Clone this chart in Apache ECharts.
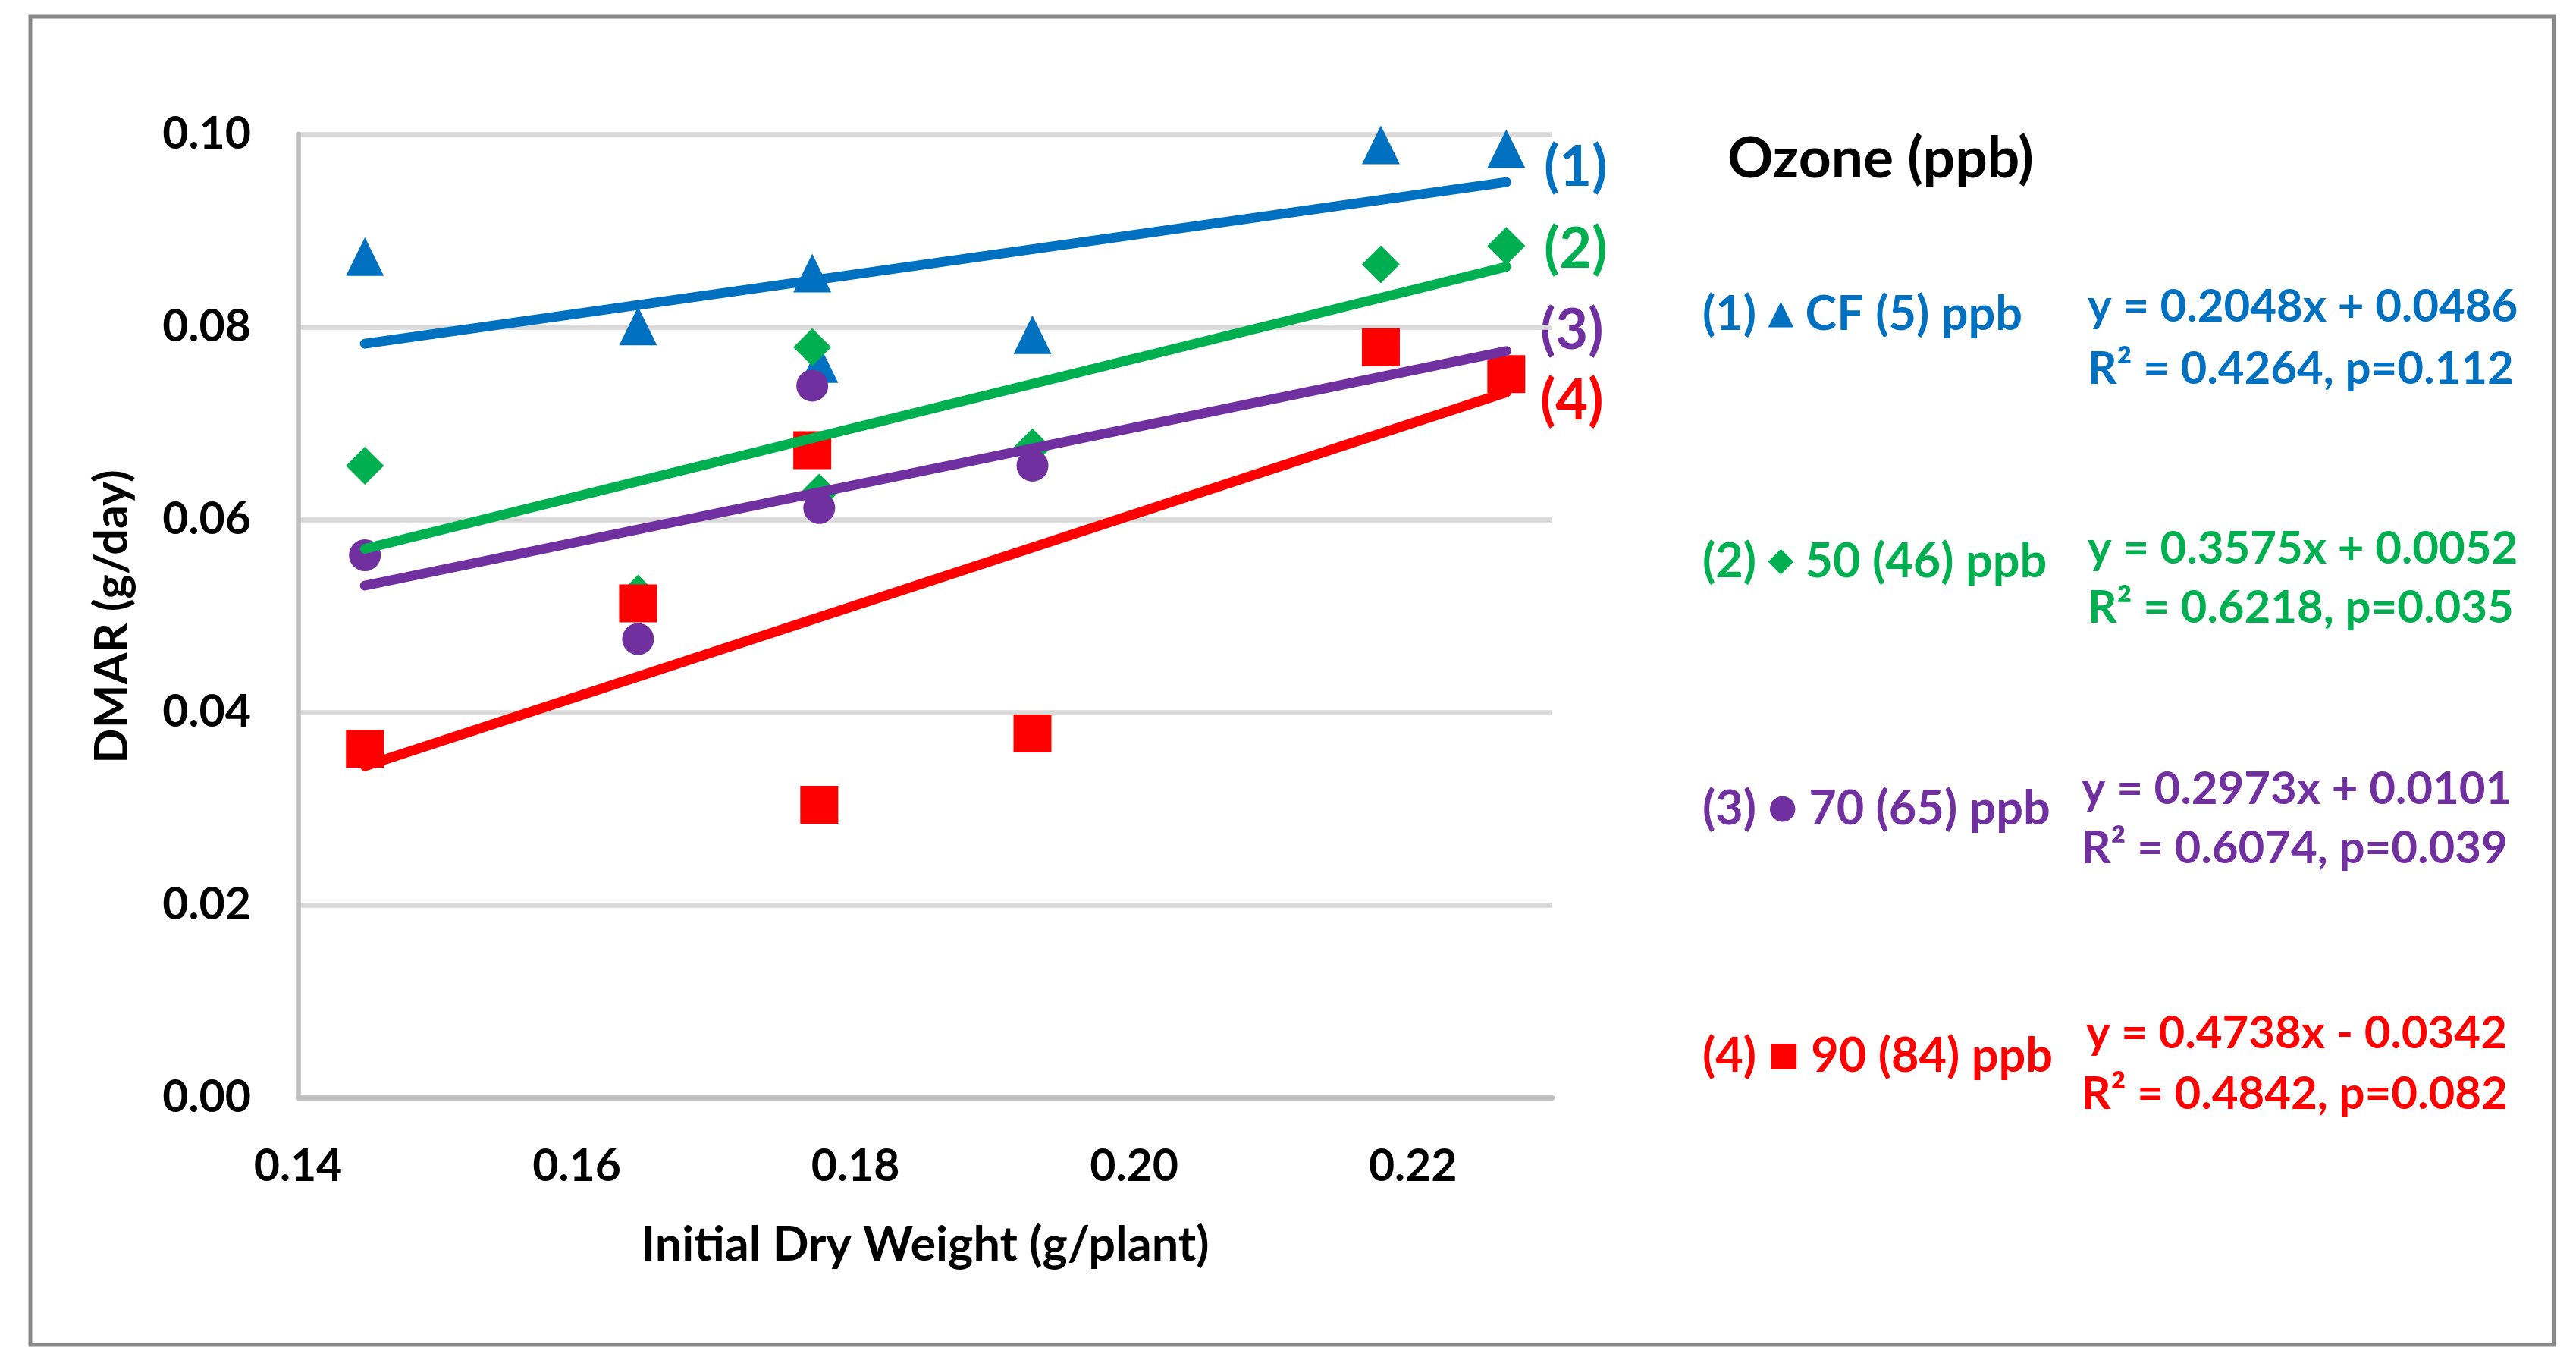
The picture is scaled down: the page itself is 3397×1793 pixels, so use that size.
<!DOCTYPE html>
<html>
<head>
<meta charset="utf-8">
<script src="https://cdn.jsdelivr.net/npm/echarts@6/dist/echarts.min.js"></script>
<style>
html,body{margin:0;padding:0;background:#fff;}
#chart{width:3397px;height:1793px;}
</style>
</head>
<body>
<div id="chart"></div>
<script>
// ---- data ----
const xValues = [0.1448, 0.1644, 0.1769, 0.1774, 0.1927, 0.2177, 0.2267];
const cfY     = [0.0873, 0.0801, 0.0856, 0.0762, 0.0792, 0.0989, 0.0985];
const o50Y    = [0.0656, 0.0523, 0.0779, 0.0628, 0.0675, 0.0865, 0.0884];
const o70Y    = [0.0563, 0.0476, 0.0739, 0.0612, 0.0656, 0.0780, 0.0750];
const o90Y    = [0.0362, 0.0513, 0.0672, 0.0304, 0.0378, 0.0779, 0.0751];
const slopes     = [0.2048, 0.3575, 0.2973, 0.4738];
const intercepts = [0.0486, 0.0052, 0.0101, -0.0342];
const seriesNames = ['CF (5) ppb', '50 (46) ppb', '70 (65) ppb', '90 (84) ppb'];
const seriesTags  = ['(1)', '(2)', '(3)', '(4)'];
const markerGlyphs = ['▲', '◆', '●', '■'];
const eqLine1 = ['y = 0.2048x + 0.0486', 'y = 0.3575x + 0.0052', 'y = 0.2973x + 0.0101', 'y = 0.4738x - 0.0342'];
const eqLine2 = ['R² = 0.4264, p=0.112', 'R² = 0.6218, p=0.035', 'R² = 0.6074, p=0.039', 'R² = 0.4842, p=0.082'];
const xTicks = [0.14, 0.16, 0.18, 0.20, 0.22];
const yTicks = [0.00, 0.02, 0.04, 0.06, 0.08, 0.10];

const colors  = ['#0070C0', '#00B050', '#7030A0', '#FF0000'];
const symbols = ['triangle', 'diamond', 'circle', 'rect'];
const symSizes = [[50, 51], [50, 50], [42, 42], [50, 50]];
const allY = [cfY, o50Y, o70Y, o90Y];
const FONT = 'Lato, "Open Sans", sans-serif';

const chart = echarts.init(document.getElementById('chart'), null, {renderer: 'canvas'});

const series = [];
allY.forEach((ys, k) => {
  series.push({
    type: 'scatter', name: seriesNames[k], z: 2,
    symbol: symbols[k], symbolSize: symSizes[k],
    itemStyle: {color: colors[k], opacity: 1},
    data: xValues.map((x, i) => [x, ys[i]])
  });
});
allY.forEach((ys, k) => {
  const x0 = Math.min(...xValues), x1 = Math.max(...xValues);
  series.push({
    type: 'line', name: 'trend ' + seriesNames[k], z: 3,
    symbol: 'none', silent: true,
    lineStyle: {color: colors[k], width: 13, cap: 'round'},
    data: [[x0, slopes[k] * x0 + intercepts[k]], [x1, slopes[k] * x1 + intercepts[k]]]
  });
});

const graphics = [
  {type: 'rect', shape: {x: 40, y: 22, width: 3328, height: 1751},
   style: {fill: 'none', stroke: '#898989', lineWidth: 5}, z: 0, silent: true},
  {type: 'text', x: 148, y: 813, rotation: Math.PI / 2,
   style: {text: 'DMAR (g/day)', font: 'bold 61px ' + FONT, fill: '#000',
           textAlign: 'center', textVerticalAlign: 'middle'}},
  {type: 'text', x: 1220, y: 1642,
   style: {text: 'Initial Dry Weight (g/plant)', font: 'bold 63px ' + FONT, fill: '#000',
           textAlign: 'center', textVerticalAlign: 'middle'}},
  {type: 'text', x: 2278, y: 210,
   style: {text: 'Ozone (ppb)', font: 'bold 75px ' + FONT, fill: '#000',
           textAlign: 'left', textVerticalAlign: 'middle'}}
];
const tagPos = [[2036, 221], [2036, 329], [2031, 436], [2031, 529]];
const rowY = [415, 741, 1067, 1393];
const eqX1 = [2753, 2753, 2745, 2751];
const eqX2 = [2753, 2753, 2745, 2745];
const eqY1 = [405, 724, 1041, 1363];
const eqY2 = [487, 802, 1119, 1443];
for (let k = 0; k < 4; k++) {
  graphics.push({type: 'text', x: tagPos[k][0], y: tagPos[k][1],
    style: {text: seriesTags[k], font: 'bold 74px ' + FONT, fill: colors[k],
            textAlign: 'left', textVerticalAlign: 'middle'}});
  graphics.push({type: 'text', x: 2245, y: rowY[k],
    style: {text: '{a|' + seriesTags[k] + ' }{m|' + markerGlyphs[k] + '}{a| ' + seriesNames[k] + '}',
            textAlign: 'left', textVerticalAlign: 'middle',
            rich: {
              a: {fontFamily: FONT, fontWeight: 'bold', fontSize: 63, fill: colors[k], color: colors[k]},
              m: {fontFamily: '"DejaVu Sans"', fontSize: 44, fill: colors[k], color: colors[k]}
            }}});
  graphics.push({type: 'text', x: eqX1[k], y: eqY1[k],
    style: {text: eqLine1[k], font: 'bold 60px ' + FONT, fill: colors[k],
            textAlign: 'left', textVerticalAlign: 'middle'}});
  graphics.push({type: 'text', x: eqX2[k], y: eqY2[k],
    style: {text: eqLine2[k], font: 'bold 60px ' + FONT, fill: colors[k],
            textAlign: 'left', textVerticalAlign: 'middle'}});
}

chart.setOption({
  animation: false,
  backgroundColor: '#ffffff',
  grid: {left: 393, right: 1350, top: 177, bottom: 346, containLabel: false},
  xAxis: {
    type: 'value', min: xTicks[0], max: 0.23, interval: 0.02,
    axisLine: {show: true, onZero: false, lineStyle: {color: '#BFBFBF', width: 6.5}},
    axisTick: {show: false},
    splitLine: {show: false},
    axisLabel: {show: true, margin: 61, showMaxLabel: false,
      formatter: v => xTicks.some(t => Math.abs(t - v) < 1e-9) ? v.toFixed(2) : '',
      fontFamily: FONT, fontWeight: 'bold', fontSize: 59, color: '#000'}
  },
  yAxis: {
    type: 'value', min: yTicks[0], max: yTicks[yTicks.length - 1], interval: 0.02,
    axisLine: {show: true, lineStyle: {color: '#BFBFBF', width: 6.5}},
    axisTick: {show: false},
    splitLine: {show: true, lineStyle: {color: '#D9D9D9', width: 6.5}},
    axisLabel: {show: true, margin: 62, formatter: v => v.toFixed(2),
      fontFamily: FONT, fontWeight: 'bold', fontSize: 59, color: '#000'}
  },
  series: series,
  graphic: graphics
});
</script>
</body>
</html>
